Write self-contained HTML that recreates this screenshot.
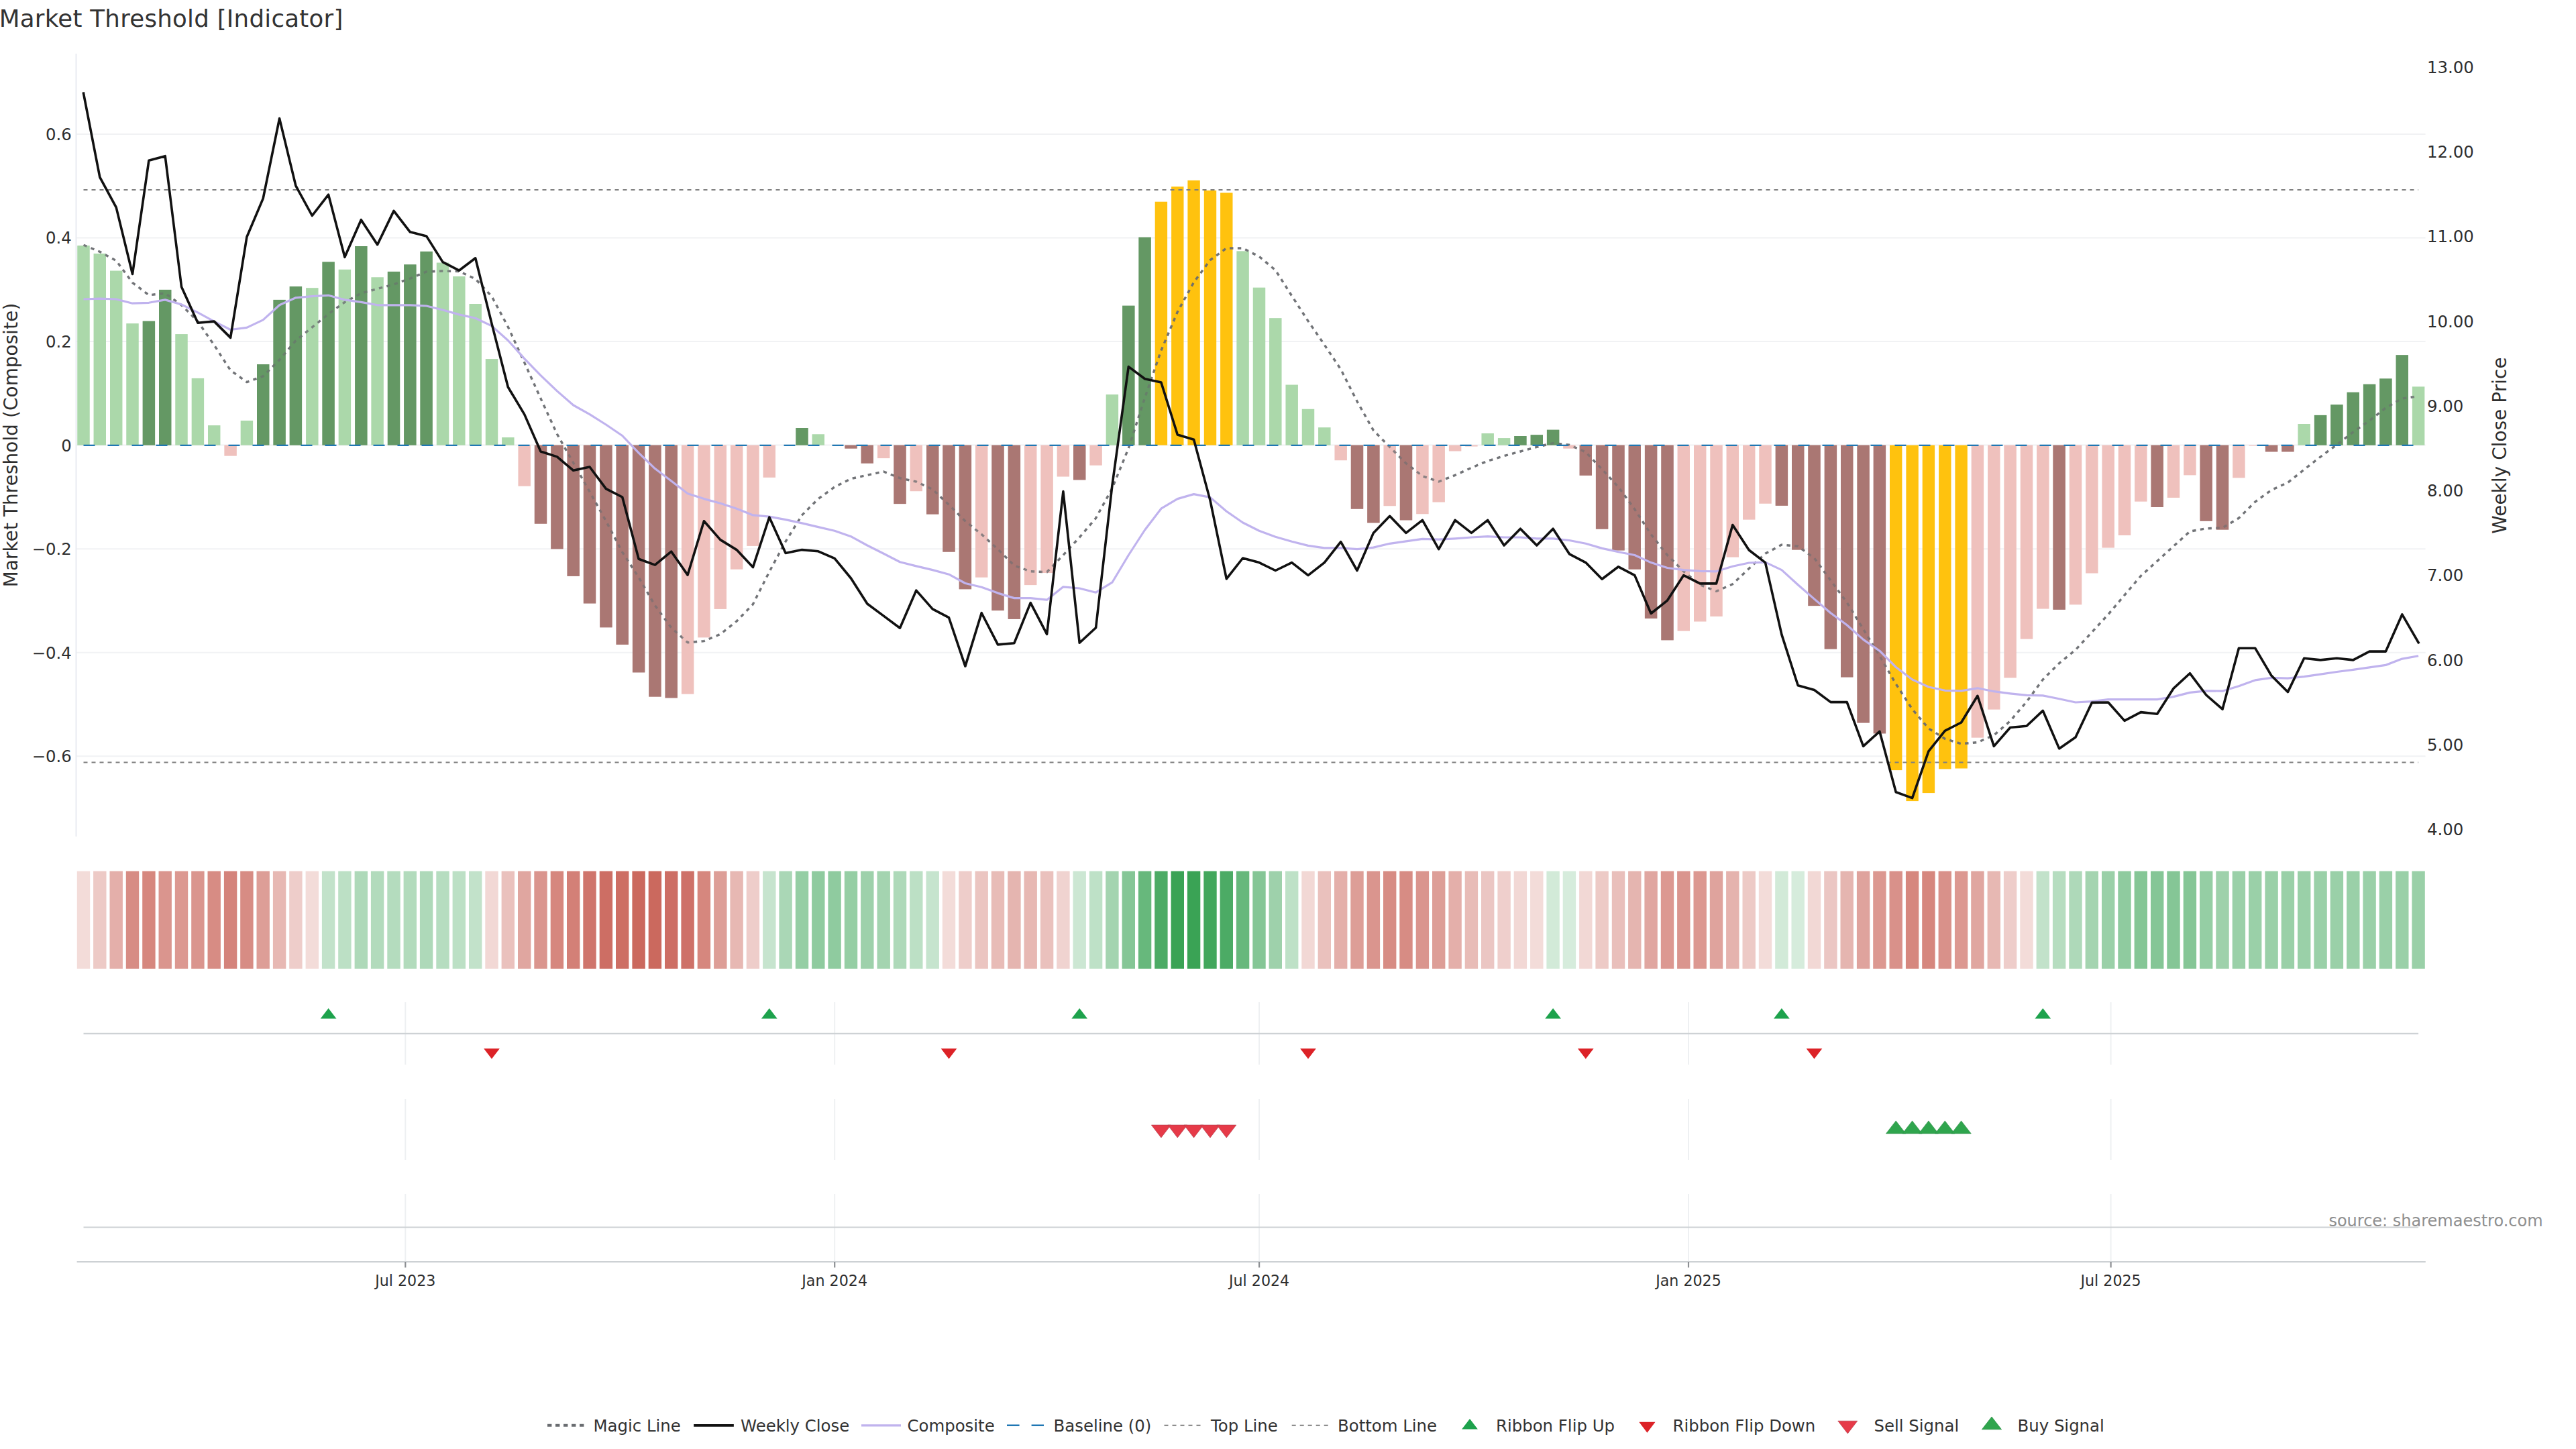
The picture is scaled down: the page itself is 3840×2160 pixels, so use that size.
<!DOCTYPE html>
<html lang="en"><head><meta charset="utf-8"><title>Market Threshold [Indicator]</title>
<style>html,body{margin:0;padding:0;background:#fff}body{width:3840px;height:2160px;overflow:hidden}svg{display:block}text{font-family:"DejaVu Sans", "Liberation Sans", sans-serif}</style></head><body>
<svg width="3840" height="2160" viewBox="0 0 3840 2160">
<rect width="3840" height="2160" fill="#fff"/>
<text x="-1.2" y="39.7" font-size="35.6" letter-spacing="0.27" fill="#333">Market Threshold [Indicator]</text>
<g stroke="#f1f2f4" stroke-width="2" fill="none">
<path d="M113.5 1127.2H3615.6"/>
<path d="M113.5 972.7H3615.6"/>
<path d="M113.5 818.2H3615.6"/>
<path d="M113.5 663.6H3615.6"/>
<path d="M113.5 509.1H3615.6"/>
<path d="M113.5 354.5H3615.6"/>
<path d="M113.5 199.9H3615.6"/>
</g>
<path d="M113.5 80V1247" stroke="#e9ebf1" stroke-width="2" fill="none"/>
<g>
<rect x="115.3" y="366.1" width="18.4" height="297.5" fill="#acd9ab"/>
<rect x="139.6" y="378" width="18.4" height="285.6" fill="#acd9ab"/>
<rect x="164" y="403.6" width="18.4" height="260" fill="#acd9ab"/>
<rect x="188.3" y="482.2" width="18.4" height="181.4" fill="#acd9ab"/>
<rect x="212.7" y="478.7" width="18.4" height="184.9" fill="#659865"/>
<rect x="237" y="431.9" width="18.4" height="231.7" fill="#659865"/>
<rect x="261.3" y="498.1" width="18.4" height="165.5" fill="#acd9ab"/>
<rect x="285.7" y="563.9" width="18.4" height="99.7" fill="#acd9ab"/>
<rect x="310" y="634.1" width="18.4" height="29.5" fill="#acd9ab"/>
<rect x="334.4" y="663.6" width="18.4" height="16" fill="#efc1bd"/>
<rect x="358.7" y="627" width="18.4" height="36.6" fill="#acd9ab"/>
<rect x="383" y="543.1" width="18.4" height="120.5" fill="#659865"/>
<rect x="407.4" y="446.9" width="18.4" height="216.7" fill="#659865"/>
<rect x="431.7" y="427" width="18.4" height="236.6" fill="#659865"/>
<rect x="456.1" y="429.2" width="18.4" height="234.4" fill="#acd9ab"/>
<rect x="480.4" y="390.4" width="18.4" height="273.2" fill="#659865"/>
<rect x="504.7" y="401.8" width="18.4" height="261.8" fill="#acd9ab"/>
<rect x="529.1" y="367" width="18.4" height="296.6" fill="#659865"/>
<rect x="553.4" y="413.3" width="18.4" height="250.3" fill="#acd9ab"/>
<rect x="577.8" y="404.9" width="18.4" height="258.7" fill="#659865"/>
<rect x="602.1" y="394.3" width="18.4" height="269.3" fill="#659865"/>
<rect x="626.4" y="374.9" width="18.4" height="288.7" fill="#659865"/>
<rect x="650.8" y="391.6" width="18.4" height="272" fill="#acd9ab"/>
<rect x="675.1" y="412" width="18.4" height="251.6" fill="#acd9ab"/>
<rect x="699.5" y="453" width="18.4" height="210.6" fill="#acd9ab"/>
<rect x="723.8" y="535.1" width="18.4" height="128.5" fill="#acd9ab"/>
<rect x="748.1" y="652" width="18.4" height="11.6" fill="#acd9ab"/>
<rect x="772.5" y="663.6" width="18.4" height="61.1" fill="#efc1bd"/>
<rect x="796.8" y="663.6" width="18.4" height="117.1" fill="#ab7773"/>
<rect x="821.2" y="663.6" width="18.4" height="154.7" fill="#ab7773"/>
<rect x="845.5" y="663.6" width="18.4" height="195.3" fill="#ab7773"/>
<rect x="869.8" y="663.6" width="18.4" height="235.9" fill="#ab7773"/>
<rect x="894.2" y="663.6" width="18.4" height="271.7" fill="#ab7773"/>
<rect x="918.5" y="663.6" width="18.4" height="297.3" fill="#ab7773"/>
<rect x="942.9" y="663.6" width="18.4" height="338.8" fill="#ab7773"/>
<rect x="967.2" y="663.6" width="18.4" height="375" fill="#ab7773"/>
<rect x="991.5" y="663.6" width="18.4" height="376.8" fill="#ab7773"/>
<rect x="1015.9" y="663.6" width="18.4" height="371" fill="#efc1bd"/>
<rect x="1040.2" y="663.6" width="18.4" height="286.7" fill="#efc1bd"/>
<rect x="1064.6" y="663.6" width="18.4" height="244.3" fill="#efc1bd"/>
<rect x="1088.9" y="663.6" width="18.4" height="185.1" fill="#efc1bd"/>
<rect x="1113.2" y="663.6" width="18.4" height="150.3" fill="#efc1bd"/>
<rect x="1137.6" y="663.6" width="18.4" height="48.2" fill="#efc1bd"/>
<rect x="1186.3" y="638" width="18.4" height="25.6" fill="#659865"/>
<rect x="1210.6" y="647.3" width="18.4" height="16.3" fill="#acd9ab"/>
<rect x="1259.3" y="663.6" width="18.4" height="5" fill="#ab7773"/>
<rect x="1283.6" y="663.6" width="18.4" height="27.1" fill="#ab7773"/>
<rect x="1308" y="663.6" width="18.4" height="19.5" fill="#efc1bd"/>
<rect x="1332.3" y="663.6" width="18.4" height="87.5" fill="#ab7773"/>
<rect x="1356.6" y="663.6" width="18.4" height="68.6" fill="#efc1bd"/>
<rect x="1381" y="663.6" width="18.4" height="103" fill="#ab7773"/>
<rect x="1405.3" y="663.6" width="18.4" height="159.1" fill="#ab7773"/>
<rect x="1429.7" y="663.6" width="18.4" height="214.7" fill="#ab7773"/>
<rect x="1454" y="663.6" width="18.4" height="197.1" fill="#efc1bd"/>
<rect x="1478.3" y="663.6" width="18.4" height="246.5" fill="#ab7773"/>
<rect x="1502.7" y="663.6" width="18.4" height="259.3" fill="#ab7773"/>
<rect x="1527" y="663.6" width="18.4" height="208.5" fill="#efc1bd"/>
<rect x="1551.4" y="663.6" width="18.4" height="190.4" fill="#efc1bd"/>
<rect x="1575.7" y="663.6" width="18.4" height="46.9" fill="#efc1bd"/>
<rect x="1600" y="663.6" width="18.4" height="51.8" fill="#ab7773"/>
<rect x="1624.4" y="663.6" width="18.4" height="30.1" fill="#efc1bd"/>
<rect x="1648.7" y="588.1" width="18.4" height="75.5" fill="#acd9ab"/>
<rect x="1673.1" y="455.7" width="18.4" height="207.9" fill="#659865"/>
<rect x="1697.4" y="353.7" width="18.4" height="309.9" fill="#659865"/>
<rect x="1721.7" y="300.7" width="18.4" height="362.9" fill="#ffc20e"/>
<rect x="1746.1" y="278.2" width="18.4" height="385.4" fill="#ffc20e"/>
<rect x="1770.4" y="268.9" width="18.4" height="394.7" fill="#ffc20e"/>
<rect x="1794.8" y="283.9" width="18.4" height="379.7" fill="#ffc20e"/>
<rect x="1819.1" y="287.4" width="18.4" height="376.2" fill="#ffc20e"/>
<rect x="1843.4" y="374.4" width="18.4" height="289.2" fill="#acd9ab"/>
<rect x="1867.8" y="428.7" width="18.4" height="234.9" fill="#acd9ab"/>
<rect x="1892.1" y="474.2" width="18.4" height="189.4" fill="#acd9ab"/>
<rect x="1916.5" y="573.6" width="18.4" height="90" fill="#acd9ab"/>
<rect x="1940.8" y="609.8" width="18.4" height="53.8" fill="#acd9ab"/>
<rect x="1965.1" y="637.2" width="18.4" height="26.4" fill="#acd9ab"/>
<rect x="1989.5" y="663.6" width="18.4" height="22.6" fill="#efc1bd"/>
<rect x="2013.8" y="663.6" width="18.4" height="95.1" fill="#ab7773"/>
<rect x="2038.2" y="663.6" width="18.4" height="115.8" fill="#ab7773"/>
<rect x="2062.5" y="663.6" width="18.4" height="90.6" fill="#efc1bd"/>
<rect x="2086.8" y="663.6" width="18.4" height="111.8" fill="#ab7773"/>
<rect x="2111.2" y="663.6" width="18.4" height="102.6" fill="#efc1bd"/>
<rect x="2135.5" y="663.6" width="18.4" height="84.9" fill="#efc1bd"/>
<rect x="2159.9" y="663.6" width="18.4" height="8.9" fill="#efc1bd"/>
<rect x="2184.2" y="663.6" width="18.4" height="1.9" fill="#efc1bd"/>
<rect x="2208.5" y="646" width="18.4" height="17.6" fill="#acd9ab"/>
<rect x="2232.9" y="653.1" width="18.4" height="10.5" fill="#acd9ab"/>
<rect x="2257.2" y="650" width="18.4" height="13.6" fill="#659865"/>
<rect x="2281.6" y="648.2" width="18.4" height="15.4" fill="#659865"/>
<rect x="2305.9" y="640.7" width="18.4" height="22.9" fill="#659865"/>
<rect x="2330.2" y="663.6" width="18.4" height="5" fill="#efc1bd"/>
<rect x="2354.6" y="663.6" width="18.4" height="45.2" fill="#ab7773"/>
<rect x="2378.9" y="663.6" width="18.4" height="125.1" fill="#ab7773"/>
<rect x="2403.3" y="663.6" width="18.4" height="156.9" fill="#ab7773"/>
<rect x="2427.6" y="663.6" width="18.4" height="185.1" fill="#ab7773"/>
<rect x="2451.9" y="663.6" width="18.4" height="258.4" fill="#ab7773"/>
<rect x="2476.3" y="663.6" width="18.4" height="290.7" fill="#ab7773"/>
<rect x="2500.6" y="663.6" width="18.4" height="277" fill="#efc1bd"/>
<rect x="2525" y="663.6" width="18.4" height="262.9" fill="#efc1bd"/>
<rect x="2549.3" y="663.6" width="18.4" height="255.3" fill="#efc1bd"/>
<rect x="2573.6" y="663.6" width="18.4" height="167" fill="#efc1bd"/>
<rect x="2598" y="663.6" width="18.4" height="111" fill="#efc1bd"/>
<rect x="2622.3" y="663.6" width="18.4" height="87.1" fill="#efc1bd"/>
<rect x="2646.7" y="663.6" width="18.4" height="90.2" fill="#ab7773"/>
<rect x="2671" y="663.6" width="18.4" height="156" fill="#ab7773"/>
<rect x="2695.3" y="663.6" width="18.4" height="239.5" fill="#ab7773"/>
<rect x="2719.7" y="663.6" width="18.4" height="303.9" fill="#ab7773"/>
<rect x="2744" y="663.6" width="18.4" height="345.9" fill="#ab7773"/>
<rect x="2768.4" y="663.6" width="18.4" height="413.9" fill="#ab7773"/>
<rect x="2792.7" y="663.6" width="18.4" height="429.8" fill="#ab7773"/>
<rect x="2817" y="663.6" width="18.4" height="484.5" fill="#ffc20e"/>
<rect x="2841.4" y="663.6" width="18.4" height="530.5" fill="#ffc20e"/>
<rect x="2865.7" y="663.6" width="18.4" height="518.5" fill="#ffc20e"/>
<rect x="2890.1" y="663.6" width="18.4" height="482.8" fill="#ffc20e"/>
<rect x="2914.4" y="663.6" width="18.4" height="481.9" fill="#ffc20e"/>
<rect x="2938.7" y="663.6" width="18.4" height="436" fill="#efc1bd"/>
<rect x="2963.1" y="663.6" width="18.4" height="394" fill="#efc1bd"/>
<rect x="2987.4" y="663.6" width="18.4" height="346.8" fill="#efc1bd"/>
<rect x="3011.8" y="663.6" width="18.4" height="288.9" fill="#efc1bd"/>
<rect x="3036.1" y="663.6" width="18.4" height="243.9" fill="#efc1bd"/>
<rect x="3060.4" y="663.6" width="18.4" height="245.2" fill="#ab7773"/>
<rect x="3084.8" y="663.6" width="18.4" height="237.7" fill="#efc1bd"/>
<rect x="3109.1" y="663.6" width="18.4" height="190.9" fill="#efc1bd"/>
<rect x="3133.5" y="663.6" width="18.4" height="152.9" fill="#efc1bd"/>
<rect x="3157.8" y="663.6" width="18.4" height="134.4" fill="#efc1bd"/>
<rect x="3182.1" y="663.6" width="18.4" height="84" fill="#efc1bd"/>
<rect x="3206.5" y="663.6" width="18.4" height="92.4" fill="#ab7773"/>
<rect x="3230.8" y="663.6" width="18.4" height="78.3" fill="#efc1bd"/>
<rect x="3255.2" y="663.6" width="18.4" height="44.7" fill="#efc1bd"/>
<rect x="3279.5" y="663.6" width="18.4" height="113.2" fill="#ab7773"/>
<rect x="3303.8" y="663.6" width="18.4" height="126" fill="#ab7773"/>
<rect x="3328.2" y="663.6" width="18.4" height="48.7" fill="#efc1bd"/>
<rect x="3352.5" y="663.6" width="18.4" height="1" fill="#efc1bd"/>
<rect x="3376.9" y="663.6" width="18.4" height="9.8" fill="#ab7773"/>
<rect x="3401.2" y="663.6" width="18.4" height="9.8" fill="#ab7773"/>
<rect x="3425.5" y="632" width="18.4" height="31.6" fill="#acd9ab"/>
<rect x="3449.9" y="618.9" width="18.4" height="44.7" fill="#659865"/>
<rect x="3474.2" y="603.2" width="18.4" height="60.4" fill="#659865"/>
<rect x="3498.6" y="584.8" width="18.4" height="78.8" fill="#659865"/>
<rect x="3522.9" y="572.8" width="18.4" height="90.8" fill="#659865"/>
<rect x="3547.2" y="564.4" width="18.4" height="99.2" fill="#659865"/>
<rect x="3571.6" y="529.2" width="18.4" height="134.4" fill="#659865"/>
<rect x="3595.9" y="576.4" width="18.4" height="87.2" fill="#acd9ab"/>
</g>
<path d="M124.5 365.2L148.8 375.3L173.2 388.6L197.5 421.3L221.9 439.8L246.2 437.2L270.5 454.8L294.9 479.1L319.2 514.4L343.6 552L367.9 569.6L392.2 560.8L416.6 536.5L440.9 507.8L465.3 487.9L489.6 468.1L513.9 450.4L538.3 437.2L562.6 430.5L587 423.9L611.3 415.1L635.6 405L660 404L684.3 404.5L708.7 415.7L733 441.8L757.3 487.2L781.7 540.4L806 594L830.4 647L854.7 690L879 733L903.4 776.8L927.7 823.1L952.1 860.7L976.4 902.6L1000.7 935.7L1025.1 957.8L1049.4 955.6L1073.8 945.4L1098.1 926L1122.4 900.8L1146.8 852.3L1171.1 807.2L1195.5 767.9L1219.8 743.6L1244.1 726L1268.5 713.6L1292.8 708.3L1317.2 703L1341.5 712.7L1365.8 718L1390.2 729.5L1414.5 752.5L1438.9 776.8L1463.2 796.6L1487.5 818.7L1511.9 843L1536.2 851.8L1560.6 852.7L1584.9 827.5L1609.2 801L1633.6 772.3L1657.9 728L1682.3 668.1L1706.6 593L1730.9 522.4L1755.3 464.9L1779.6 420.8L1804 387.7L1828.3 370L1852.6 370L1877 382.4L1901.3 402.7L1925.7 441.1L1950 478.6L1974.3 514L1998.7 550.6L2023 598.3L2047.4 641.6L2071.7 666.4L2096 690.7L2120.4 709.6L2144.7 718L2169.1 708.3L2193.4 697.3L2217.7 687.1L2242.1 679.6L2266.4 673L2290.8 666.4L2315.1 660.6L2339.4 663.3L2363.8 673.9L2388.1 699.5L2412.5 726L2436.8 759.1L2461.1 796.6L2485.5 827.5L2509.8 851.8L2534.2 871.7L2558.5 881.4L2582.8 870.8L2607.2 847.4L2631.5 825.3L2655.9 812.1L2680.2 814.3L2704.5 832L2728.9 865.1L2753.2 898.2L2777.6 937.9L2801.9 977.7L2826.2 1019.6L2850.6 1057.2L2874.9 1085.9L2899.3 1101.3L2923.6 1108.8L2947.9 1106.6L2972.3 1096L2996.6 1074.8L3021 1046.1L3045.3 1013L3069.6 988.7L3094 968.8L3118.3 942.4L3142.7 915.9L3167 887.2L3191.3 858.5L3215.7 836.4L3240 814.3L3264.4 792.2L3288.7 787.8L3313 786.9L3337.4 772.3L3361.7 748.1L3386.1 730.4L3410.4 719.4L3434.7 700L3459.1 681L3483.4 663L3507.8 644L3532.1 627L3556.4 608L3580.8 594L3605.1 590.7" stroke="#696c70" stroke-width="3.4" stroke-dasharray="5.4 6.4" stroke-opacity="0.95" fill="none" stroke-linejoin="round"/>
<g>
<rect x="115.3" y="366.1" width="18.4" height="297.5" fill="#acd9ab" fill-opacity="0.2"/>
<rect x="139.6" y="378" width="18.4" height="285.6" fill="#acd9ab" fill-opacity="0.2"/>
<rect x="164" y="403.6" width="18.4" height="260" fill="#acd9ab" fill-opacity="0.2"/>
<rect x="188.3" y="482.2" width="18.4" height="181.4" fill="#acd9ab" fill-opacity="0.2"/>
<rect x="212.7" y="478.7" width="18.4" height="184.9" fill="#659865" fill-opacity="0.4"/>
<rect x="237" y="431.9" width="18.4" height="231.7" fill="#659865" fill-opacity="0.4"/>
<rect x="261.3" y="498.1" width="18.4" height="165.5" fill="#acd9ab" fill-opacity="0.2"/>
<rect x="285.7" y="563.9" width="18.4" height="99.7" fill="#acd9ab" fill-opacity="0.2"/>
<rect x="310" y="634.1" width="18.4" height="29.5" fill="#acd9ab" fill-opacity="0.2"/>
<rect x="334.4" y="663.6" width="18.4" height="16" fill="#efc1bd" fill-opacity="0.2"/>
<rect x="358.7" y="627" width="18.4" height="36.6" fill="#acd9ab" fill-opacity="0.2"/>
<rect x="383" y="543.1" width="18.4" height="120.5" fill="#659865" fill-opacity="0.4"/>
<rect x="407.4" y="446.9" width="18.4" height="216.7" fill="#659865" fill-opacity="0.4"/>
<rect x="431.7" y="427" width="18.4" height="236.6" fill="#659865" fill-opacity="0.4"/>
<rect x="456.1" y="429.2" width="18.4" height="234.4" fill="#acd9ab" fill-opacity="0.2"/>
<rect x="480.4" y="390.4" width="18.4" height="273.2" fill="#659865" fill-opacity="0.4"/>
<rect x="504.7" y="401.8" width="18.4" height="261.8" fill="#acd9ab" fill-opacity="0.2"/>
<rect x="529.1" y="367" width="18.4" height="296.6" fill="#659865" fill-opacity="0.4"/>
<rect x="553.4" y="413.3" width="18.4" height="250.3" fill="#acd9ab" fill-opacity="0.2"/>
<rect x="577.8" y="404.9" width="18.4" height="258.7" fill="#659865" fill-opacity="0.4"/>
<rect x="602.1" y="394.3" width="18.4" height="269.3" fill="#659865" fill-opacity="0.4"/>
<rect x="626.4" y="374.9" width="18.4" height="288.7" fill="#659865" fill-opacity="0.4"/>
<rect x="650.8" y="391.6" width="18.4" height="272" fill="#acd9ab" fill-opacity="0.2"/>
<rect x="675.1" y="412" width="18.4" height="251.6" fill="#acd9ab" fill-opacity="0.2"/>
<rect x="699.5" y="453" width="18.4" height="210.6" fill="#acd9ab" fill-opacity="0.2"/>
<rect x="723.8" y="535.1" width="18.4" height="128.5" fill="#acd9ab" fill-opacity="0.2"/>
<rect x="748.1" y="652" width="18.4" height="11.6" fill="#acd9ab" fill-opacity="0.2"/>
<rect x="772.5" y="663.6" width="18.4" height="61.1" fill="#efc1bd" fill-opacity="0.2"/>
<rect x="796.8" y="663.6" width="18.4" height="117.1" fill="#ab7773" fill-opacity="0.4"/>
<rect x="821.2" y="663.6" width="18.4" height="154.7" fill="#ab7773" fill-opacity="0.4"/>
<rect x="845.5" y="663.6" width="18.4" height="195.3" fill="#ab7773" fill-opacity="0.4"/>
<rect x="869.8" y="663.6" width="18.4" height="235.9" fill="#ab7773" fill-opacity="0.4"/>
<rect x="894.2" y="663.6" width="18.4" height="271.7" fill="#ab7773" fill-opacity="0.4"/>
<rect x="918.5" y="663.6" width="18.4" height="297.3" fill="#ab7773" fill-opacity="0.4"/>
<rect x="942.9" y="663.6" width="18.4" height="338.8" fill="#ab7773" fill-opacity="0.4"/>
<rect x="967.2" y="663.6" width="18.4" height="375" fill="#ab7773" fill-opacity="0.4"/>
<rect x="991.5" y="663.6" width="18.4" height="376.8" fill="#ab7773" fill-opacity="0.4"/>
<rect x="1015.9" y="663.6" width="18.4" height="371" fill="#efc1bd" fill-opacity="0.2"/>
<rect x="1040.2" y="663.6" width="18.4" height="286.7" fill="#efc1bd" fill-opacity="0.2"/>
<rect x="1064.6" y="663.6" width="18.4" height="244.3" fill="#efc1bd" fill-opacity="0.2"/>
<rect x="1088.9" y="663.6" width="18.4" height="185.1" fill="#efc1bd" fill-opacity="0.2"/>
<rect x="1113.2" y="663.6" width="18.4" height="150.3" fill="#efc1bd" fill-opacity="0.2"/>
<rect x="1137.6" y="663.6" width="18.4" height="48.2" fill="#efc1bd" fill-opacity="0.2"/>
<rect x="1186.3" y="638" width="18.4" height="25.6" fill="#659865" fill-opacity="0.4"/>
<rect x="1210.6" y="647.3" width="18.4" height="16.3" fill="#acd9ab" fill-opacity="0.2"/>
<rect x="1259.3" y="663.6" width="18.4" height="5" fill="#ab7773" fill-opacity="0.4"/>
<rect x="1283.6" y="663.6" width="18.4" height="27.1" fill="#ab7773" fill-opacity="0.4"/>
<rect x="1308" y="663.6" width="18.4" height="19.5" fill="#efc1bd" fill-opacity="0.2"/>
<rect x="1332.3" y="663.6" width="18.4" height="87.5" fill="#ab7773" fill-opacity="0.4"/>
<rect x="1356.6" y="663.6" width="18.4" height="68.6" fill="#efc1bd" fill-opacity="0.2"/>
<rect x="1381" y="663.6" width="18.4" height="103" fill="#ab7773" fill-opacity="0.4"/>
<rect x="1405.3" y="663.6" width="18.4" height="159.1" fill="#ab7773" fill-opacity="0.4"/>
<rect x="1429.7" y="663.6" width="18.4" height="214.7" fill="#ab7773" fill-opacity="0.4"/>
<rect x="1454" y="663.6" width="18.4" height="197.1" fill="#efc1bd" fill-opacity="0.2"/>
<rect x="1478.3" y="663.6" width="18.4" height="246.5" fill="#ab7773" fill-opacity="0.4"/>
<rect x="1502.7" y="663.6" width="18.4" height="259.3" fill="#ab7773" fill-opacity="0.4"/>
<rect x="1527" y="663.6" width="18.4" height="208.5" fill="#efc1bd" fill-opacity="0.2"/>
<rect x="1551.4" y="663.6" width="18.4" height="190.4" fill="#efc1bd" fill-opacity="0.2"/>
<rect x="1575.7" y="663.6" width="18.4" height="46.9" fill="#efc1bd" fill-opacity="0.2"/>
<rect x="1600" y="663.6" width="18.4" height="51.8" fill="#ab7773" fill-opacity="0.4"/>
<rect x="1624.4" y="663.6" width="18.4" height="30.1" fill="#efc1bd" fill-opacity="0.2"/>
<rect x="1648.7" y="588.1" width="18.4" height="75.5" fill="#acd9ab" fill-opacity="0.2"/>
<rect x="1673.1" y="455.7" width="18.4" height="207.9" fill="#659865" fill-opacity="0.4"/>
<rect x="1697.4" y="353.7" width="18.4" height="309.9" fill="#659865" fill-opacity="0.4"/>
<rect x="1843.4" y="374.4" width="18.4" height="289.2" fill="#acd9ab" fill-opacity="0.2"/>
<rect x="1867.8" y="428.7" width="18.4" height="234.9" fill="#acd9ab" fill-opacity="0.2"/>
<rect x="1892.1" y="474.2" width="18.4" height="189.4" fill="#acd9ab" fill-opacity="0.2"/>
<rect x="1916.5" y="573.6" width="18.4" height="90" fill="#acd9ab" fill-opacity="0.2"/>
<rect x="1940.8" y="609.8" width="18.4" height="53.8" fill="#acd9ab" fill-opacity="0.2"/>
<rect x="1965.1" y="637.2" width="18.4" height="26.4" fill="#acd9ab" fill-opacity="0.2"/>
<rect x="1989.5" y="663.6" width="18.4" height="22.6" fill="#efc1bd" fill-opacity="0.2"/>
<rect x="2013.8" y="663.6" width="18.4" height="95.1" fill="#ab7773" fill-opacity="0.4"/>
<rect x="2038.2" y="663.6" width="18.4" height="115.8" fill="#ab7773" fill-opacity="0.4"/>
<rect x="2062.5" y="663.6" width="18.4" height="90.6" fill="#efc1bd" fill-opacity="0.2"/>
<rect x="2086.8" y="663.6" width="18.4" height="111.8" fill="#ab7773" fill-opacity="0.4"/>
<rect x="2111.2" y="663.6" width="18.4" height="102.6" fill="#efc1bd" fill-opacity="0.2"/>
<rect x="2135.5" y="663.6" width="18.4" height="84.9" fill="#efc1bd" fill-opacity="0.2"/>
<rect x="2159.9" y="663.6" width="18.4" height="8.9" fill="#efc1bd" fill-opacity="0.2"/>
<rect x="2184.2" y="663.6" width="18.4" height="1.9" fill="#efc1bd" fill-opacity="0.2"/>
<rect x="2208.5" y="646" width="18.4" height="17.6" fill="#acd9ab" fill-opacity="0.2"/>
<rect x="2232.9" y="653.1" width="18.4" height="10.5" fill="#acd9ab" fill-opacity="0.2"/>
<rect x="2257.2" y="650" width="18.4" height="13.6" fill="#659865" fill-opacity="0.4"/>
<rect x="2281.6" y="648.2" width="18.4" height="15.4" fill="#659865" fill-opacity="0.4"/>
<rect x="2305.9" y="640.7" width="18.4" height="22.9" fill="#659865" fill-opacity="0.4"/>
<rect x="2330.2" y="663.6" width="18.4" height="5" fill="#efc1bd" fill-opacity="0.2"/>
<rect x="2354.6" y="663.6" width="18.4" height="45.2" fill="#ab7773" fill-opacity="0.4"/>
<rect x="2378.9" y="663.6" width="18.4" height="125.1" fill="#ab7773" fill-opacity="0.4"/>
<rect x="2403.3" y="663.6" width="18.4" height="156.9" fill="#ab7773" fill-opacity="0.4"/>
<rect x="2427.6" y="663.6" width="18.4" height="185.1" fill="#ab7773" fill-opacity="0.4"/>
<rect x="2451.9" y="663.6" width="18.4" height="258.4" fill="#ab7773" fill-opacity="0.4"/>
<rect x="2476.3" y="663.6" width="18.4" height="290.7" fill="#ab7773" fill-opacity="0.4"/>
<rect x="2500.6" y="663.6" width="18.4" height="277" fill="#efc1bd" fill-opacity="0.2"/>
<rect x="2525" y="663.6" width="18.4" height="262.9" fill="#efc1bd" fill-opacity="0.2"/>
<rect x="2549.3" y="663.6" width="18.4" height="255.3" fill="#efc1bd" fill-opacity="0.2"/>
<rect x="2573.6" y="663.6" width="18.4" height="167" fill="#efc1bd" fill-opacity="0.2"/>
<rect x="2598" y="663.6" width="18.4" height="111" fill="#efc1bd" fill-opacity="0.2"/>
<rect x="2622.3" y="663.6" width="18.4" height="87.1" fill="#efc1bd" fill-opacity="0.2"/>
<rect x="2646.7" y="663.6" width="18.4" height="90.2" fill="#ab7773" fill-opacity="0.4"/>
<rect x="2671" y="663.6" width="18.4" height="156" fill="#ab7773" fill-opacity="0.4"/>
<rect x="2695.3" y="663.6" width="18.4" height="239.5" fill="#ab7773" fill-opacity="0.4"/>
<rect x="2719.7" y="663.6" width="18.4" height="303.9" fill="#ab7773" fill-opacity="0.4"/>
<rect x="2744" y="663.6" width="18.4" height="345.9" fill="#ab7773" fill-opacity="0.4"/>
<rect x="2768.4" y="663.6" width="18.4" height="413.9" fill="#ab7773" fill-opacity="0.4"/>
<rect x="2792.7" y="663.6" width="18.4" height="429.8" fill="#ab7773" fill-opacity="0.4"/>
<rect x="2938.7" y="663.6" width="18.4" height="436" fill="#efc1bd" fill-opacity="0.2"/>
<rect x="2963.1" y="663.6" width="18.4" height="394" fill="#efc1bd" fill-opacity="0.2"/>
<rect x="2987.4" y="663.6" width="18.4" height="346.8" fill="#efc1bd" fill-opacity="0.2"/>
<rect x="3011.8" y="663.6" width="18.4" height="288.9" fill="#efc1bd" fill-opacity="0.2"/>
<rect x="3036.1" y="663.6" width="18.4" height="243.9" fill="#efc1bd" fill-opacity="0.2"/>
<rect x="3060.4" y="663.6" width="18.4" height="245.2" fill="#ab7773" fill-opacity="0.4"/>
<rect x="3084.8" y="663.6" width="18.4" height="237.7" fill="#efc1bd" fill-opacity="0.2"/>
<rect x="3109.1" y="663.6" width="18.4" height="190.9" fill="#efc1bd" fill-opacity="0.2"/>
<rect x="3133.5" y="663.6" width="18.4" height="152.9" fill="#efc1bd" fill-opacity="0.2"/>
<rect x="3157.8" y="663.6" width="18.4" height="134.4" fill="#efc1bd" fill-opacity="0.2"/>
<rect x="3182.1" y="663.6" width="18.4" height="84" fill="#efc1bd" fill-opacity="0.2"/>
<rect x="3206.5" y="663.6" width="18.4" height="92.4" fill="#ab7773" fill-opacity="0.4"/>
<rect x="3230.8" y="663.6" width="18.4" height="78.3" fill="#efc1bd" fill-opacity="0.2"/>
<rect x="3255.2" y="663.6" width="18.4" height="44.7" fill="#efc1bd" fill-opacity="0.2"/>
<rect x="3279.5" y="663.6" width="18.4" height="113.2" fill="#ab7773" fill-opacity="0.4"/>
<rect x="3303.8" y="663.6" width="18.4" height="126" fill="#ab7773" fill-opacity="0.4"/>
<rect x="3328.2" y="663.6" width="18.4" height="48.7" fill="#efc1bd" fill-opacity="0.2"/>
<rect x="3352.5" y="663.6" width="18.4" height="1" fill="#efc1bd" fill-opacity="0.2"/>
<rect x="3376.9" y="663.6" width="18.4" height="9.8" fill="#ab7773" fill-opacity="0.4"/>
<rect x="3401.2" y="663.6" width="18.4" height="9.8" fill="#ab7773" fill-opacity="0.4"/>
<rect x="3425.5" y="632" width="18.4" height="31.6" fill="#acd9ab" fill-opacity="0.2"/>
<rect x="3449.9" y="618.9" width="18.4" height="44.7" fill="#659865" fill-opacity="0.4"/>
<rect x="3474.2" y="603.2" width="18.4" height="60.4" fill="#659865" fill-opacity="0.4"/>
<rect x="3498.6" y="584.8" width="18.4" height="78.8" fill="#659865" fill-opacity="0.4"/>
<rect x="3522.9" y="572.8" width="18.4" height="90.8" fill="#659865" fill-opacity="0.4"/>
<rect x="3547.2" y="564.4" width="18.4" height="99.2" fill="#659865" fill-opacity="0.4"/>
<rect x="3571.6" y="529.2" width="18.4" height="134.4" fill="#659865" fill-opacity="0.4"/>
<rect x="3595.9" y="576.4" width="18.4" height="87.2" fill="#acd9ab" fill-opacity="0.2"/>
</g>
<path d="M124.5 663.9H3605.1" stroke="#1f77b4" stroke-width="2.4" stroke-dasharray="17 19" fill="none"/>
<path d="M124.5 283.1H3605.1" stroke="#7f7f7f" stroke-width="2" stroke-dasharray="6 6" fill="none"/>
<path d="M124.5 1136.6H3605.1" stroke="#7f7f7f" stroke-width="2" stroke-dasharray="6 6" fill="none"/>
<path d="M124.5 446L148.8 445.1L173.2 446L197.5 452.2L221.9 451.3L246.2 446.9L270.5 453.9L294.9 465.9L319.2 479.1L343.6 491.5L367.9 488.4L392.2 476.9L416.6 454.8L440.9 443.8L465.3 441.6L489.6 440.3L513.9 446.9L538.3 450.4L562.6 454.8L587 454.8L611.3 454.8L635.6 456L660 462L684.3 468.9L708.7 474.3L733 485.9L757.3 507.5L781.7 534.6L806 559.7L830.4 582.9L854.7 604L879 617.6L903.4 633L927.7 649.5L952.1 675.2L976.4 698.6L1000.7 717.1L1025.1 735.7L1049.4 743.6L1073.8 750.3L1098.1 758.2L1122.4 767.9L1146.8 770.1L1171.1 774.6L1195.5 779.9L1219.8 785.6L1244.1 791.3L1268.5 799.7L1292.8 813L1317.2 825.3L1341.5 837.7L1365.8 843.9L1390.2 849.6L1414.5 856.2L1438.9 869.5L1463.2 875.2L1487.5 884.1L1511.9 891.6L1536.2 891.6L1560.6 894.2L1584.9 874.8L1609.2 877L1633.6 883.2L1657.9 868.2L1682.3 827.5L1706.6 790L1730.9 758.2L1755.3 743.6L1779.6 736.6L1804 741.4L1828.3 762.2L1852.6 779L1877 791.3L1901.3 800.2L1925.7 807.2L1950 813.4L1974.3 816.9L1998.7 816.9L2023 818.7L2047.4 816.1L2071.7 810.3L2096 806.8L2120.4 803.3L2144.7 804.1L2169.1 802.8L2193.4 801L2217.7 799.7L2242.1 801L2266.4 801L2290.8 802.8L2315.1 802.8L2339.4 805.5L2363.8 810.3L2388.1 817.4L2412.5 822.7L2436.8 827.5L2461.1 838.6L2485.5 846.5L2509.8 849.6L2534.2 851.4L2558.5 851.8L2582.8 844.3L2607.2 839L2631.5 838.1L2655.9 849.6L2680.2 871.7L2704.5 892.9L2728.9 913.7L2753.2 931.8L2777.6 953.4L2801.9 970.2L2826.2 994.5L2850.6 1013L2874.9 1024L2899.3 1029.3L2923.6 1029.8L2947.9 1025.8L2972.3 1030.7L2996.6 1033.8L3021 1036.4L3045.3 1036.9L3069.6 1041.7L3094 1047L3118.3 1045.7L3142.7 1042.6L3167 1042.6L3191.3 1042.6L3215.7 1042.6L3240 1038.6L3264.4 1032.4L3288.7 1029.8L3313 1030.2L3337.4 1022.7L3361.7 1013.9L3386.1 1010.4L3410.4 1011.2L3434.7 1008.6L3459.1 1005.1L3483.4 1001.5L3507.8 998.4L3532.1 994.9L3556.4 991.4L3580.8 982.1L3605.1 977.7" stroke="#c0b3ee" stroke-width="3.2" fill="none" stroke-linejoin="round"/>
<path d="M124.5 139.1L148.8 264.1L173.2 309.1L197.5 408.5L221.9 239.3L246.2 232.7L270.5 427.4L294.9 481.3L319.2 479.1L343.6 503.4L367.9 353.3L392.2 295.9L416.6 176.6L440.9 276.9L465.3 321.5L489.6 290.1L513.9 383.3L538.3 327.7L562.6 364.7L587 314.4L611.3 345.8L635.6 351.9L660 390.6L684.3 403.2L708.7 384.8L733 482.4L757.3 577L781.7 617.6L806 673L830.4 680.9L854.7 701.3L879 696L903.4 728.6L927.7 741L952.1 833.3L976.4 842.1L1000.7 822.2L1025.1 857.1L1049.4 776.8L1073.8 804.6L1098.1 819.6L1122.4 845.6L1146.8 771L1171.1 824.5L1195.5 819.6L1219.8 821.8L1244.1 832.4L1268.5 862L1292.8 900L1317.2 918.1L1341.5 936.2L1365.8 880.1L1390.2 907.9L1414.5 920.7L1438.9 993.1L1463.2 913.7L1487.5 960.9L1511.9 958.7L1536.2 898.6L1560.6 945.4L1584.9 732.6L1609.2 958.2L1633.6 935.7L1657.9 723.8L1682.3 546.6L1706.6 564.7L1730.9 570L1755.3 648L1779.6 655.3L1804 745.9L1828.3 862.9L1852.6 832L1877 838.6L1901.3 850.5L1925.7 838.6L1950 857.6L1974.3 838.6L1998.7 807.7L2023 850.5L2047.4 794.4L2071.7 769.3L2096 794.4L2120.4 775.4L2144.7 818.7L2169.1 775.4L2193.4 794.4L2217.7 775.4L2242.1 813L2266.4 788.2L2290.8 813L2315.1 788.2L2339.4 825.8L2363.8 838.6L2388.1 863.3L2412.5 844.8L2436.8 857.6L2461.1 914.5L2485.5 895.1L2509.8 857.6L2534.2 869.9L2558.5 869.9L2582.8 782.5L2607.2 820L2631.5 838.6L2655.9 945.9L2680.2 1021.8L2704.5 1028.5L2728.9 1046.6L2753.2 1046.6L2777.6 1112.4L2801.9 1090.3L2826.2 1180.8L2850.6 1189.6L2874.9 1119.9L2899.3 1089.4L2923.6 1077L2947.9 1037.3L2972.3 1112.4L2996.6 1084.5L3021 1082.3L3045.3 1059.4L3069.6 1115.9L3094 1099.1L3118.3 1047.4L3142.7 1047L3167 1074.4L3191.3 1061.6L3215.7 1064.2L3240 1026.3L3264.4 1003.7L3288.7 1036L3313 1057.2L3337.4 966.2L3361.7 966.2L3386.1 1007.3L3410.4 1031.6L3434.7 981.2L3459.1 983.9L3483.4 981.2L3507.8 983.9L3532.1 971.1L3556.4 971.1L3580.8 915.9L3605.1 957.8" stroke="#111" stroke-width="3.6" fill="none" stroke-linejoin="round" stroke-linecap="square"/>
<g font-size="24.4" fill="#2e2e2e" text-anchor="end">
<text x="106.9" y="1136.2">−0.6</text>
<text x="106.9" y="981.6">−0.4</text>
<text x="106.9" y="827.1">−0.2</text>
<text x="106.9" y="672.5">0</text>
<text x="106.9" y="518">0.2</text>
<text x="106.9" y="363.4">0.4</text>
<text x="106.9" y="208.8">0.6</text>
</g>
<g font-size="24.4" fill="#2e2e2e">
<text x="3617.9" y="1245">4.00</text>
<text x="3617.9" y="1118.8">5.00</text>
<text x="3617.9" y="992.5">6.00</text>
<text x="3617.9" y="866.3">7.00</text>
<text x="3617.9" y="740.1">8.00</text>
<text x="3617.9" y="613.9">9.00</text>
<text x="3617.9" y="487.7">10.00</text>
<text x="3617.9" y="361.4">11.00</text>
<text x="3617.9" y="235.2">12.00</text>
<text x="3617.9" y="109">13.00</text>
</g>
<text transform="translate(25.7 663.4) rotate(-90)" font-size="27.8" letter-spacing="0.12" fill="#2e2e2e" text-anchor="middle">Market Threshold (Composite)</text>
<text transform="translate(3736 664) rotate(-90)" font-size="27.8" letter-spacing="0.1" fill="#2e2e2e" text-anchor="middle">Weekly Close Price</text>
<g>
<rect x="114.8" y="1298.6" width="19.4" height="145.4" fill="#f3dcd9"/>
<rect x="139.1" y="1298.6" width="19.4" height="145.4" fill="#edcac6"/>
<rect x="163.5" y="1298.6" width="19.4" height="145.4" fill="#e4afaa"/>
<rect x="187.8" y="1298.6" width="19.4" height="145.4" fill="#d78c84"/>
<rect x="212.2" y="1298.6" width="19.4" height="145.4" fill="#d6877e"/>
<rect x="236.5" y="1298.6" width="19.4" height="145.4" fill="#da958e"/>
<rect x="260.8" y="1298.6" width="19.4" height="145.4" fill="#dc9891"/>
<rect x="285.2" y="1298.6" width="19.4" height="145.4" fill="#da958e"/>
<rect x="309.5" y="1298.6" width="19.4" height="145.4" fill="#d78c84"/>
<rect x="333.9" y="1298.6" width="19.4" height="145.4" fill="#d4837b"/>
<rect x="358.2" y="1298.6" width="19.4" height="145.4" fill="#d78c84"/>
<rect x="382.5" y="1298.6" width="19.4" height="145.4" fill="#dd9e97"/>
<rect x="406.9" y="1298.6" width="19.4" height="145.4" fill="#e7b8b3"/>
<rect x="431.2" y="1298.6" width="19.4" height="145.4" fill="#eecdca"/>
<rect x="455.6" y="1298.6" width="19.4" height="145.4" fill="#f3dcd9"/>
<rect x="479.9" y="1298.6" width="19.4" height="145.4" fill="#c2e2ca"/>
<rect x="504.2" y="1298.6" width="19.4" height="145.4" fill="#bce0c5"/>
<rect x="528.6" y="1298.6" width="19.4" height="145.4" fill="#aed9b9"/>
<rect x="552.9" y="1298.6" width="19.4" height="145.4" fill="#b2dbbc"/>
<rect x="577.3" y="1298.6" width="19.4" height="145.4" fill="#b4dcbe"/>
<rect x="601.6" y="1298.6" width="19.4" height="145.4" fill="#b2dbbc"/>
<rect x="625.9" y="1298.6" width="19.4" height="145.4" fill="#aed9b9"/>
<rect x="650.3" y="1298.6" width="19.4" height="145.4" fill="#b6ddc0"/>
<rect x="674.6" y="1298.6" width="19.4" height="145.4" fill="#bce0c5"/>
<rect x="699" y="1298.6" width="19.4" height="145.4" fill="#c2e2ca"/>
<rect x="723.3" y="1298.6" width="19.4" height="145.4" fill="#f2d8d5"/>
<rect x="747.6" y="1298.6" width="19.4" height="145.4" fill="#eac1bd"/>
<rect x="772" y="1298.6" width="19.4" height="145.4" fill="#e0a6a0"/>
<rect x="796.3" y="1298.6" width="19.4" height="145.4" fill="#da958e"/>
<rect x="820.7" y="1298.6" width="19.4" height="145.4" fill="#d6877e"/>
<rect x="845" y="1298.6" width="19.4" height="145.4" fill="#d38077"/>
<rect x="869.3" y="1298.6" width="19.4" height="145.4" fill="#cf756c"/>
<rect x="893.7" y="1298.6" width="19.4" height="145.4" fill="#cd6e64"/>
<rect x="918" y="1298.6" width="19.4" height="145.4" fill="#cd6e64"/>
<rect x="942.4" y="1298.6" width="19.4" height="145.4" fill="#cb695e"/>
<rect x="966.7" y="1298.6" width="19.4" height="145.4" fill="#cb695e"/>
<rect x="991" y="1298.6" width="19.4" height="145.4" fill="#cd6e64"/>
<rect x="1015.4" y="1298.6" width="19.4" height="145.4" fill="#ce7168"/>
<rect x="1039.7" y="1298.6" width="19.4" height="145.4" fill="#d6877e"/>
<rect x="1064.1" y="1298.6" width="19.4" height="145.4" fill="#dd9e97"/>
<rect x="1088.4" y="1298.6" width="19.4" height="145.4" fill="#e7b8b3"/>
<rect x="1112.7" y="1298.6" width="19.4" height="145.4" fill="#eecdca"/>
<rect x="1137.1" y="1298.6" width="19.4" height="145.4" fill="#c6e4ce"/>
<rect x="1161.4" y="1298.6" width="19.4" height="145.4" fill="#aad7b6"/>
<rect x="1185.8" y="1298.6" width="19.4" height="145.4" fill="#95cea4"/>
<rect x="1210.1" y="1298.6" width="19.4" height="145.4" fill="#8fcb9f"/>
<rect x="1234.4" y="1298.6" width="19.4" height="145.4" fill="#8fcb9f"/>
<rect x="1258.8" y="1298.6" width="19.4" height="145.4" fill="#95cea4"/>
<rect x="1283.1" y="1298.6" width="19.4" height="145.4" fill="#9ed1ab"/>
<rect x="1307.5" y="1298.6" width="19.4" height="145.4" fill="#a4d4b0"/>
<rect x="1331.8" y="1298.6" width="19.4" height="145.4" fill="#aed9b9"/>
<rect x="1356.1" y="1298.6" width="19.4" height="145.4" fill="#bce0c5"/>
<rect x="1380.5" y="1298.6" width="19.4" height="145.4" fill="#c6e4ce"/>
<rect x="1404.8" y="1298.6" width="19.4" height="145.4" fill="#f3dcd9"/>
<rect x="1429.2" y="1298.6" width="19.4" height="145.4" fill="#eecdca"/>
<rect x="1453.5" y="1298.6" width="19.4" height="145.4" fill="#ebc5c1"/>
<rect x="1477.8" y="1298.6" width="19.4" height="145.4" fill="#e8bcb7"/>
<rect x="1502.2" y="1298.6" width="19.4" height="145.4" fill="#e5b5b0"/>
<rect x="1526.5" y="1298.6" width="19.4" height="145.4" fill="#e7b8b3"/>
<rect x="1550.9" y="1298.6" width="19.4" height="145.4" fill="#eac1bd"/>
<rect x="1575.2" y="1298.6" width="19.4" height="145.4" fill="#f0d3d0"/>
<rect x="1599.5" y="1298.6" width="19.4" height="145.4" fill="#cce7d3"/>
<rect x="1623.9" y="1298.6" width="19.4" height="145.4" fill="#bee1c7"/>
<rect x="1648.2" y="1298.6" width="19.4" height="145.4" fill="#a4d4b0"/>
<rect x="1672.6" y="1298.6" width="19.4" height="145.4" fill="#85c696"/>
<rect x="1696.9" y="1298.6" width="19.4" height="145.4" fill="#67b87c"/>
<rect x="1721.2" y="1298.6" width="19.4" height="145.4" fill="#4cab65"/>
<rect x="1745.6" y="1298.6" width="19.4" height="145.4" fill="#3aa355"/>
<rect x="1769.9" y="1298.6" width="19.4" height="145.4" fill="#3aa355"/>
<rect x="1794.3" y="1298.6" width="19.4" height="145.4" fill="#42a75c"/>
<rect x="1818.6" y="1298.6" width="19.4" height="145.4" fill="#4cab65"/>
<rect x="1842.9" y="1298.6" width="19.4" height="145.4" fill="#67b87c"/>
<rect x="1867.3" y="1298.6" width="19.4" height="145.4" fill="#85c696"/>
<rect x="1891.6" y="1298.6" width="19.4" height="145.4" fill="#9ed1ab"/>
<rect x="1916" y="1298.6" width="19.4" height="145.4" fill="#bee1c7"/>
<rect x="1940.3" y="1298.6" width="19.4" height="145.4" fill="#f2d8d5"/>
<rect x="1964.6" y="1298.6" width="19.4" height="145.4" fill="#eac1bd"/>
<rect x="1989" y="1298.6" width="19.4" height="145.4" fill="#e4afaa"/>
<rect x="2013.3" y="1298.6" width="19.4" height="145.4" fill="#dd9e97"/>
<rect x="2037.7" y="1298.6" width="19.4" height="145.4" fill="#da958e"/>
<rect x="2062" y="1298.6" width="19.4" height="145.4" fill="#d78c84"/>
<rect x="2086.3" y="1298.6" width="19.4" height="145.4" fill="#d78c84"/>
<rect x="2110.7" y="1298.6" width="19.4" height="145.4" fill="#da958e"/>
<rect x="2135" y="1298.6" width="19.4" height="145.4" fill="#dd9e97"/>
<rect x="2159.4" y="1298.6" width="19.4" height="145.4" fill="#e4afaa"/>
<rect x="2183.7" y="1298.6" width="19.4" height="145.4" fill="#e8bcb7"/>
<rect x="2208" y="1298.6" width="19.4" height="145.4" fill="#ebc6c3"/>
<rect x="2232.4" y="1298.6" width="19.4" height="145.4" fill="#efcfcc"/>
<rect x="2256.7" y="1298.6" width="19.4" height="145.4" fill="#f2d8d5"/>
<rect x="2281.1" y="1298.6" width="19.4" height="145.4" fill="#f3dcd9"/>
<rect x="2305.4" y="1298.6" width="19.4" height="145.4" fill="#d2ead8"/>
<rect x="2329.7" y="1298.6" width="19.4" height="145.4" fill="#d6ecdc"/>
<rect x="2354.1" y="1298.6" width="19.4" height="145.4" fill="#f2d8d5"/>
<rect x="2378.4" y="1298.6" width="19.4" height="145.4" fill="#edcac6"/>
<rect x="2402.8" y="1298.6" width="19.4" height="145.4" fill="#e9bfbb"/>
<rect x="2427.1" y="1298.6" width="19.4" height="145.4" fill="#e5b5b0"/>
<rect x="2451.4" y="1298.6" width="19.4" height="145.4" fill="#e0a6a0"/>
<rect x="2475.8" y="1298.6" width="19.4" height="145.4" fill="#dc9891"/>
<rect x="2500.1" y="1298.6" width="19.4" height="145.4" fill="#da958e"/>
<rect x="2524.5" y="1298.6" width="19.4" height="145.4" fill="#dc9891"/>
<rect x="2548.8" y="1298.6" width="19.4" height="145.4" fill="#dfa39d"/>
<rect x="2573.1" y="1298.6" width="19.4" height="145.4" fill="#e5b3ae"/>
<rect x="2597.5" y="1298.6" width="19.4" height="145.4" fill="#edcac6"/>
<rect x="2621.8" y="1298.6" width="19.4" height="145.4" fill="#f3dcd9"/>
<rect x="2646.2" y="1298.6" width="19.4" height="145.4" fill="#d2ead8"/>
<rect x="2670.5" y="1298.6" width="19.4" height="145.4" fill="#d6ecdc"/>
<rect x="2694.8" y="1298.6" width="19.4" height="145.4" fill="#f2d8d5"/>
<rect x="2719.2" y="1298.6" width="19.4" height="145.4" fill="#ebc6c3"/>
<rect x="2743.5" y="1298.6" width="19.4" height="145.4" fill="#e5b5b0"/>
<rect x="2767.9" y="1298.6" width="19.4" height="145.4" fill="#dfa39d"/>
<rect x="2792.2" y="1298.6" width="19.4" height="145.4" fill="#dc9891"/>
<rect x="2816.5" y="1298.6" width="19.4" height="145.4" fill="#d9918a"/>
<rect x="2840.9" y="1298.6" width="19.4" height="145.4" fill="#d6877e"/>
<rect x="2865.2" y="1298.6" width="19.4" height="145.4" fill="#d6877e"/>
<rect x="2889.6" y="1298.6" width="19.4" height="145.4" fill="#d9918a"/>
<rect x="2913.9" y="1298.6" width="19.4" height="145.4" fill="#dc9891"/>
<rect x="2938.2" y="1298.6" width="19.4" height="145.4" fill="#e0a6a0"/>
<rect x="2962.6" y="1298.6" width="19.4" height="145.4" fill="#e7b8b3"/>
<rect x="2986.9" y="1298.6" width="19.4" height="145.4" fill="#eecdca"/>
<rect x="3011.3" y="1298.6" width="19.4" height="145.4" fill="#f3dcd9"/>
<rect x="3035.6" y="1298.6" width="19.4" height="145.4" fill="#c2e2ca"/>
<rect x="3059.9" y="1298.6" width="19.4" height="145.4" fill="#b6ddc0"/>
<rect x="3084.3" y="1298.6" width="19.4" height="145.4" fill="#aed9b9"/>
<rect x="3108.6" y="1298.6" width="19.4" height="145.4" fill="#a4d4b0"/>
<rect x="3133" y="1298.6" width="19.4" height="145.4" fill="#9ad0a8"/>
<rect x="3157.3" y="1298.6" width="19.4" height="145.4" fill="#8fcb9f"/>
<rect x="3181.6" y="1298.6" width="19.4" height="145.4" fill="#85c696"/>
<rect x="3206" y="1298.6" width="19.4" height="145.4" fill="#85c696"/>
<rect x="3230.3" y="1298.6" width="19.4" height="145.4" fill="#85c696"/>
<rect x="3254.7" y="1298.6" width="19.4" height="145.4" fill="#85c696"/>
<rect x="3279" y="1298.6" width="19.4" height="145.4" fill="#95cea4"/>
<rect x="3303.3" y="1298.6" width="19.4" height="145.4" fill="#9ed1ab"/>
<rect x="3327.7" y="1298.6" width="19.4" height="145.4" fill="#9ad0a8"/>
<rect x="3352" y="1298.6" width="19.4" height="145.4" fill="#9ad0a8"/>
<rect x="3376.4" y="1298.6" width="19.4" height="145.4" fill="#9ad0a8"/>
<rect x="3400.7" y="1298.6" width="19.4" height="145.4" fill="#9ad0a8"/>
<rect x="3425" y="1298.6" width="19.4" height="145.4" fill="#9ad0a8"/>
<rect x="3449.4" y="1298.6" width="19.4" height="145.4" fill="#9ad0a8"/>
<rect x="3473.7" y="1298.6" width="19.4" height="145.4" fill="#9ad0a8"/>
<rect x="3498.1" y="1298.6" width="19.4" height="145.4" fill="#9ad0a8"/>
<rect x="3522.4" y="1298.6" width="19.4" height="145.4" fill="#9ad0a8"/>
<rect x="3546.7" y="1298.6" width="19.4" height="145.4" fill="#9ad0a8"/>
<rect x="3571.1" y="1298.6" width="19.4" height="145.4" fill="#9ad0a8"/>
<rect x="3595.4" y="1298.6" width="19.4" height="145.4" fill="#9ad0a8"/>
</g>
<g stroke="#eef0f2" stroke-width="2" fill="none">
<path d="M604.3 1494V1587"/>
<path d="M604.3 1638V1729"/>
<path d="M604.3 1780V1881"/>
<path d="M1244.2 1494V1587"/>
<path d="M1244.2 1638V1729"/>
<path d="M1244.2 1780V1881"/>
<path d="M1877.1 1494V1587"/>
<path d="M1877.1 1638V1729"/>
<path d="M1877.1 1780V1881"/>
<path d="M2517 1494V1587"/>
<path d="M2517 1638V1729"/>
<path d="M2517 1780V1881"/>
<path d="M3146.6 1494V1587"/>
<path d="M3146.6 1638V1729"/>
<path d="M3146.6 1780V1881"/>
</g>
<path d="M124.5 1540.7H3605.1" stroke="#cdd1d4" stroke-width="2" fill="none"/>
<path d="M124.5 1829.5H3605.1" stroke="#cdd1d4" stroke-width="2" fill="none"/>
<path d="M114.6 1881H3615.8" stroke="#cdd1d4" stroke-width="2" fill="none"/>
<g stroke="#8c8f93" stroke-width="2.2" fill="none">
<path d="M604.3 1881V1889.5"/>
<path d="M1244.2 1881V1889.5"/>
<path d="M1877.1 1881V1889.5"/>
<path d="M2517 1881V1889.5"/>
<path d="M3146.6 1881V1889.5"/>
</g>
<g font-size="22.2" fill="#2e2e2e" text-anchor="middle">
<text x="604.3" y="1916.5">Jul 2023</text>
<text x="1244.2" y="1916.5">Jan 2024</text>
<text x="1877.1" y="1916.5">Jul 2024</text>
<text x="2517" y="1916.5">Jan 2025</text>
<text x="3146.6" y="1916.5">Jul 2025</text>
</g>
<path d="M489.6 1503L501.5 1518.5L477.7 1518.5Z" fill="#1da24c"/>
<path d="M1146.8 1503L1158.7 1518.5L1134.9 1518.5Z" fill="#1da24c"/>
<path d="M1609.2 1503L1621.1 1518.5L1597.3 1518.5Z" fill="#1da24c"/>
<path d="M2315.1 1503L2327 1518.5L2303.2 1518.5Z" fill="#1da24c"/>
<path d="M2655.9 1503L2667.8 1518.5L2644 1518.5Z" fill="#1da24c"/>
<path d="M3045.3 1503L3057.2 1518.5L3033.4 1518.5Z" fill="#1da24c"/>
<path d="M721.1 1562.9L744.9 1562.9L733 1578.5Z" fill="#dc2227"/>
<path d="M1402.6 1562.9L1426.4 1562.9L1414.5 1578.5Z" fill="#dc2227"/>
<path d="M1938.1 1562.9L1961.9 1562.9L1950 1578.5Z" fill="#dc2227"/>
<path d="M2351.9 1562.9L2375.7 1562.9L2363.8 1578.5Z" fill="#dc2227"/>
<path d="M2692.6 1562.9L2716.4 1562.9L2704.5 1578.5Z" fill="#dc2227"/>
<path d="M1716.4 1677.1L1745.4 1677.1L1730.9 1695.9Z" fill="#e63a48" stroke="#b53c4a" stroke-width="0.7"/>
<path d="M1740.8 1677.1L1769.8 1677.1L1755.3 1695.9Z" fill="#e63a48" stroke="#b53c4a" stroke-width="0.7"/>
<path d="M1765.1 1677.1L1794.1 1677.1L1779.6 1695.9Z" fill="#e63a48" stroke="#b53c4a" stroke-width="0.7"/>
<path d="M1789.5 1677.1L1818.5 1677.1L1804 1695.9Z" fill="#e63a48" stroke="#b53c4a" stroke-width="0.7"/>
<path d="M1813.8 1677.1L1842.8 1677.1L1828.3 1695.9Z" fill="#e63a48" stroke="#b53c4a" stroke-width="0.7"/>
<path d="M2826.2 1670.9L2840.8 1689.7L2811.6 1689.7Z" fill="#2fa54d" stroke="#2a8f45" stroke-width="0.7"/>
<path d="M2850.6 1670.9L2865.2 1689.7L2836 1689.7Z" fill="#2fa54d" stroke="#2a8f45" stroke-width="0.7"/>
<path d="M2874.9 1670.9L2889.5 1689.7L2860.3 1689.7Z" fill="#2fa54d" stroke="#2a8f45" stroke-width="0.7"/>
<path d="M2899.3 1670.9L2913.9 1689.7L2884.7 1689.7Z" fill="#2fa54d" stroke="#2a8f45" stroke-width="0.7"/>
<path d="M2923.6 1670.9L2938.2 1689.7L2909 1689.7Z" fill="#2fa54d" stroke="#2a8f45" stroke-width="0.7"/>
<text x="3790.6" y="1827.5" font-size="24" fill="#8f8f8f" text-anchor="end">source: sharemaestro.com</text>
<g font-size="24.4" fill="#333">
<path d="M816 2124.8H870.4" stroke="#696c70" stroke-width="3.9" stroke-dasharray="6.4 5.6" fill="none"/>
<text x="884.5" y="2134.3">Magic Line</text>
<path d="M1036 2124.8H1092" stroke="#111" stroke-width="3.7" stroke-linecap="square" fill="none"/>
<text x="1104" y="2134.3">Weekly Close</text>
<path d="M1284 2124.8H1343" stroke="#c0b3ee" stroke-width="3.2" fill="none"/>
<text x="1352.5" y="2134.3">Composite</text>
<path d="M1501 2124.8H1556" stroke="#1f77b4" stroke-width="2.4" stroke-dasharray="18.6 18" fill="none"/>
<text x="1570.5" y="2134.3">Baseline (0)</text>
<path d="M1735.5 2124.8H1790" stroke="#7f7f7f" stroke-width="2" stroke-dasharray="6 6" fill="none"/>
<text x="1805" y="2134.3">Top Line</text>
<path d="M1925.7 2124.8H1980" stroke="#7f7f7f" stroke-width="2" stroke-dasharray="6 6" fill="none"/>
<text x="1994" y="2134.3">Bottom Line</text>
<path d="M2191 2115L2202.9 2130.5L2179.1 2130.5Z" fill="#1da24c"/>
<text x="2230" y="2134.3">Ribbon Flip Up</text>
<path d="M2443.3 2119.8L2467.5 2119.8L2455.4 2135.7Z" fill="#dc2227"/>
<text x="2493.5" y="2134.3">Ribbon Flip Down</text>
<path d="M2739.8 2118.2L2768.8 2118.2L2754.3 2137Z" fill="#e63a48" stroke="#b53c4a" stroke-width="0.7"/>
<text x="2793.5" y="2134.3">Sell Signal</text>
<path d="M2969 2112L2983.6 2130.8L2954.4 2130.8Z" fill="#2fa54d" stroke="#2a8f45" stroke-width="0.7"/>
<text x="3007.5" y="2134.3">Buy Signal</text>
</g>
</svg></body></html>
